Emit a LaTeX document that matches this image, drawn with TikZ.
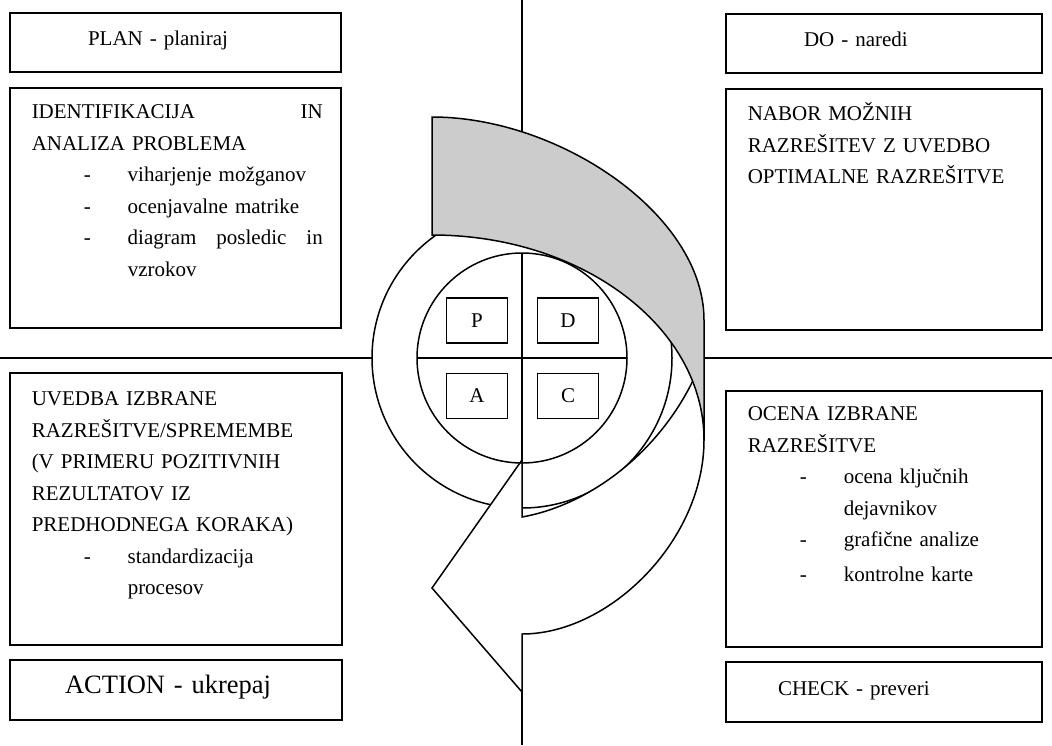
\documentclass[tikz,border=0pt]{standalone}
\usepackage{fontspec}
\setmainfont{Liberation Serif}
\usetikzlibrary{positioning}
\newcommand{\alinea}[1]{\hspace*{52pt}\makebox[44pt][l]{-}#1}

\begin{document}
\begin{tikzpicture}[x=1pt,y=-1pt,line width=1.5pt,
        okvir/.style={draw,rectangle,inner sep=0pt,outer sep=0pt,anchor=north west},
        naslov/.style={draw,rectangle,inner sep=0pt,outer sep=0pt,align=left,
          minimum height=59pt,text height=14pt,text depth=8pt,
          font=\fontsize{21}{25}\selectfont},
        besedilo/.style={inner sep=0pt,anchor=north west,align=left,
          font=\fontsize{21}{31.5}\selectfont},
        krog/.style={draw,circle,inner sep=0pt,outer sep=0pt},
        crka/.style={draw,rectangle,fill=white,minimum width=61pt,minimum height=45pt,
          inner sep=0pt,font=\fontsize{21}{25}\selectfont}]
      \useasboundingbox (0,0) rectangle (1052,745);
      \coordinate (O) at (522,358);
      \coordinate (sever) at (522,0);
      \coordinate (jug) at (522,745);
      \coordinate (zahod) at (0,358);
      \coordinate (vzhod) at (1052,358);
      \coordinate (desno) at (704,358);
      \draw (sever) -- (jug);
      \node[krog,fill=white,minimum size=300pt] (obroc) at (O) {};
      \draw (zahod) -- (obroc.west);
      \draw (desno) -- (vzhod);
      \draw[fill=white] (704,365) -- (704,440) .. controls (704,540) and (610,634) .. (522,634)
        -- (522,692) -- (432,588) -- (522,460) -- (522,517)
        .. controls (590,505) and (665,450) .. (700,365) -- cycle;
      \draw[fill=gray!40] (432,117) .. controls (560,117) and (704,215) .. (704,320)
        -- (704,440) .. controls (704,327) and (582,235) .. (432,235) -- cycle;
      \node[krog,minimum size=210pt] (jedro) at (O) {};
      \draw (jedro.north) -- (jedro.south);
      \draw (jedro.west) -- (jedro.east);
      \node[crka] (kp) at ([shift={(-45,-37.5)}]O) {P};
      \node[crka] (kd) at ([shift={(46,-37.5)}]O) {D};
      \node[crka] (ka) at ([shift={(-45,38)}]O) {A};
      \node[crka] (kc) at ([shift={(46,38)}]O) {C};

      \node[okvir,minimum width=331pt,minimum height=240pt] (plan1) at (10,88) {};
      \node[naslov,text width=331pt] (plan) [above=16pt of plan1] {\hspace*{78pt}PLAN - planiraj};
      \node[okvir,minimum width=316pt,minimum height=241pt] (do1) at (726,89) {};
      \node[naslov,text width=316pt] (do) [above=16pt of do1] {\hspace*{78pt}DO - naredi};
      \node[okvir,minimum width=332pt,minimum height=272pt] (act1) at (10,373) {};
      \node[naslov,text width=332pt,minimum height=60pt,font=\fontsize{26.5}{30}\selectfont]
        (act) [below=15pt of act1] {\hspace*{55pt}ACTION - ukrepaj};
      \node[okvir,minimum width=316pt,minimum height=256pt] (chk1) at (726,391) {};
      \node[naslov,text width=316pt,minimum height=60pt] (chk) [below=15pt of chk1]
        {\hspace*{52pt}CHECK - preveri};

      \node[besedilo,text width=291pt] (plantxt) at ([shift={(21,8)}]plan1.north west)
        {\strut IDENTIFIKACIJA\hfill IN\\
        ANALIZA PROBLEMA\\
        \alinea{viharjenje možganov}\\
        \alinea{ocenjavalne matrike}\\
        \alinea{diagram\hfill posledic\hfill in}\\
        \hspace*{96pt}vzrokov};
      \node[besedilo,text width=274pt] (dotxt) at ([shift={(21,9)}]do1.north west)
        {\strut NABOR MOŽNIH\\
        RAZREŠITEV Z UVEDBO\\
        OPTIMALNE RAZREŠITVE};
      \node[besedilo,text width=290pt] (acttxt) at ([shift={(21,10)}]act1.north west)
        {\strut UVEDBA IZBRANE\\
        RAZREŠITVE/SPREMEMBE\\
        (V PRIMERU POZITIVNIH\\
        REZULTATOV IZ\\
        PREDHODNEGA KORAKA)\\
        \alinea{standardizacija}\\
        \hspace*{96pt}procesov};
      \node[besedilo,text width=274pt] (chktxt) at ([shift={(21,7)}]chk1.north west)
        {\strut OCENA IZBRANE\\
        RAZREŠITVE\\
        \alinea{ocena ključnih}\\
        \hspace*{96pt}dejavnikov\\
        \alinea{grafične analize}\\[3pt]
        \alinea{kontrolne karte}};
    \end{tikzpicture}
\end{document}
